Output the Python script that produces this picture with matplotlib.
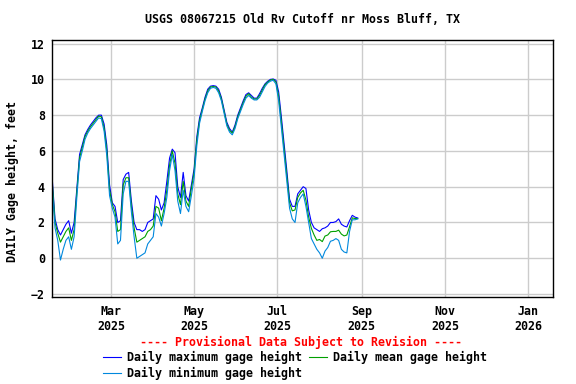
import matplotlib
matplotlib.use("Agg")
import matplotlib.pyplot as plt
from matplotlib.lines import Line2D
import pandas as pd

# Styling constants
FONT = "DejaVu Sans Mono"
FONT_SIZE = 8.4
MAX_COLOR = "#0000FF"
MEAN_COLOR = "#00A000"
MIN_COLOR = "#0088DD"
GRID_COLOR = "#CCCCCC"
LINE_WIDTH = 0.8

# Data: every second day starting 2025-01-17, values in feet
START_DATE = "2025-01-17"
mean_height = [
    4.2, 2.0, 1.4, 0.9, 1.2, 1.5, 1.7, 1.0, 1.6, 3.7,
    5.6, 6.2, 6.8, 7.1, 7.35, 7.55, 7.75, 7.95, 7.9, 7.3,
    6.0, 3.8, 3.0, 2.6, 1.5, 1.6, 4.1, 4.5, 4.5, 2.9,
    1.7, 0.9, 1.0, 1.1, 1.2, 1.5, 1.6, 1.8, 2.9, 2.8,
    2.1, 2.8, 3.8, 5.2, 6.0, 5.3, 3.6, 3.0, 4.3, 3.2,
    2.9, 3.9, 4.8, 6.6, 7.7, 8.3, 8.9, 9.35, 9.57, 9.6,
    9.57, 9.35, 8.9, 8.2, 7.5, 7.15, 7.0, 7.35, 7.9, 8.3,
    8.7, 9.05, 9.2, 9.0, 8.9, 8.9, 9.1, 9.4, 9.7, 9.85,
    9.96, 10.0, 9.85, 9.05, 7.6, 6.1, 4.6, 3.1, 2.65, 2.7,
    3.4, 3.65, 3.8, 3.25, 2.3, 1.67, 1.3, 1.0, 1.05, 0.93,
    1.24, 1.3, 1.48, 1.5, 1.5, 1.57, 1.35, 1.25, 1.3, 1.76,
    2.26, 2.22, 2.22,
]
max_height = [
    4.4, 2.2, 1.6, 1.3, 1.6, 1.9, 2.1, 1.4, 2.0, 3.9,
    5.8, 6.35, 6.9, 7.2, 7.45, 7.65, 7.85, 8.0, 8.0, 7.5,
    6.3, 4.1, 3.1, 2.9, 2.0, 2.1, 4.4, 4.7, 4.8, 3.2,
    2.0, 1.6, 1.6, 1.5, 1.6, 2.0, 2.1, 2.2, 3.5, 3.3,
    2.7, 3.1, 4.3, 5.6, 6.1, 5.9, 4.0, 3.4, 4.8, 3.5,
    3.2, 4.1, 5.0, 6.8, 7.85, 8.4, 9.0, 9.45, 9.62, 9.65,
    9.62, 9.45, 9.0, 8.3, 7.6, 7.25, 7.05, 7.45, 8.0, 8.4,
    8.8, 9.15, 9.25, 9.1, 8.95, 8.95, 9.2, 9.5, 9.75, 9.9,
    10.0, 10.02, 9.95, 9.3, 7.9, 6.4, 4.9, 3.3, 2.9, 2.9,
    3.6, 3.8, 4.0, 3.9, 2.7, 2.0, 1.7, 1.6, 1.5, 1.65,
    1.7, 1.8, 2.0, 2.0, 2.05, 2.2, 1.9, 1.8, 1.75, 2.1,
    2.4, 2.3, 2.25,
]
min_height = [
    3.9, 1.7, 1.0, -0.1, 0.5, 1.0, 1.2, 0.5, 1.2, 3.4,
    5.4, 6.0, 6.65, 7.0, 7.25, 7.45, 7.65, 7.85, 7.8, 7.1,
    5.7, 3.5, 2.8, 2.3, 0.8, 1.0, 3.6, 4.3, 4.3, 2.6,
    1.2, 0.0, 0.1, 0.2, 0.3, 0.8, 1.0, 1.2, 2.5, 2.3,
    1.8, 2.5, 3.4, 4.9, 5.8, 4.9, 3.2, 2.5, 3.8, 2.9,
    2.6, 3.5, 4.5, 6.3, 7.55, 8.2, 8.8, 9.25, 9.5, 9.55,
    9.5, 9.25, 8.8, 8.1, 7.4, 7.05, 6.9, 7.25, 7.8, 8.2,
    8.6, 8.95, 9.1, 8.95, 8.85, 8.85, 9.0, 9.3, 9.6, 9.8,
    9.9, 9.95, 9.75, 8.8, 7.3, 5.8, 4.3, 2.8, 2.2, 2.0,
    3.1, 3.4, 3.6, 2.9, 2.0, 1.1, 0.8, 0.5, 0.3, 0.0,
    0.4, 0.6, 0.95, 1.0, 1.1, 1.0, 0.5, 0.35, 0.3, 1.5,
    2.15, 2.15, 2.2,
]
tick_dates = ["2025-03-01", "2025-05-01", "2025-07-01", "2025-09-01",
              "2025-11-01", "2026-01-01"]
tick_labels = ["Mar\n2025", "May\n2025", "Jul\n2025", "Sep\n2025",
               "Nov\n2025", "Jan\n2026"]
y_ticks = [-2, 0, 2, 4, 6, 8, 10, 12]

dates = pd.date_range(START_DATE, periods=len(mean_height), freq="2D")

plt.rcParams["font.family"] = FONT
plt.rcParams["font.weight"] = "bold"
plt.rcParams["font.size"] = FONT_SIZE

fig = plt.figure(figsize=(5.76, 3.84), dpi=100, facecolor="white")
ax = fig.add_axes([0.0898, 0.2273, 0.8703, 0.6685])

ax.plot(dates, max_height, color=MAX_COLOR, linewidth=LINE_WIDTH)
ax.plot(dates, mean_height, color=MEAN_COLOR, linewidth=LINE_WIDTH)
ax.plot(dates, min_height, color=MIN_COLOR, linewidth=LINE_WIDTH)

ax.set_xlim(pd.Timestamp("2025-01-16 14:00"), pd.Timestamp("2026-01-19 05:00"))
ax.set_ylim(-2.15, 12.2)
ax.set_yticks(y_ticks)
ax.set_xticks(pd.to_datetime(tick_dates))
ax.set_xticklabels(tick_labels)
ax.tick_params(axis="x", length=0, pad=6)
ax.tick_params(axis="y", length=0, pad=5)
ax.grid(color=GRID_COLOR, linewidth=1.0)
ax.set_axisbelow(True)
for spine in ax.spines.values():
    spine.set_color("black")
    spine.set_linewidth(1.0)

fig.text(0.525, 0.9505, "USGS 08067215 Old Rv Cutoff nr Moss Bluff, TX",
         ha="center", va="center")
fig.text(0.0217, 0.528, "DAILY Gage height, feet", rotation=90,
         ha="center", va="center")
fig.text(0.523, 0.107, "---- Provisional Data Subject to Revision ----",
         color="red", ha="center", va="center")

# Legend drawn by hand to match the two-column layout
legend_items = [
    (MAX_COLOR, "Daily maximum gage height", 103, 0.0703),
    (MEAN_COLOR, "Daily mean gage height", 309, 0.0703),
    (MIN_COLOR, "Daily minimum gage height", 103, 0.0286),
]
for color, label, x0, y in legend_items:
    fig.add_artist(Line2D([x0 / 576, (x0 + 18) / 576], [y, y],
                          color=color, linewidth=LINE_WIDTH))
    fig.text((x0 + 24) / 576, y, label, ha="left", va="center")

fig.savefig("out.png", dpi=100, facecolor="white")
